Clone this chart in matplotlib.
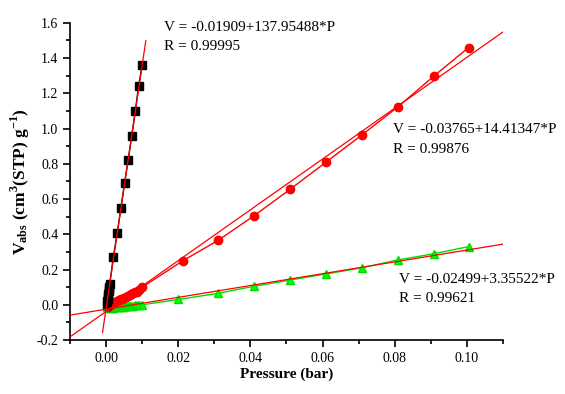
import matplotlib
matplotlib.use("Agg")
import matplotlib.pyplot as plt
import numpy as np
from matplotlib.ticker import MultipleLocator, FormatStrFormatter

plt.rcParams['font.family'] = ['Liberation Serif', 'DejaVu Serif']
plt.rcParams['mathtext.fontset'] = 'custom'
plt.rcParams['mathtext.rm'] = 'Liberation Serif'
plt.rcParams['mathtext.bf'] = 'Liberation Serif:bold'

# Black squares
p_black = [0.0002, 0.0003, 0.0004, 0.0005, 0.0006, 0.0007, 0.0008, 0.0009, 0.0010,
           0.0020, 0.0031, 0.0041, 0.0051, 0.0061, 0.0071, 0.0081, 0.0090, 0.0100]
v_black = [0.00, 0.02, 0.03, 0.05, 0.06, 0.08, 0.09, 0.10, 0.12,
           0.27, 0.41, 0.55, 0.69, 0.82, 0.96, 1.10, 1.24, 1.36]
# Red circles
p_red = [0.0005, 0.0010, 0.0015, 0.0020, 0.0025, 0.0030, 0.0035, 0.0040, 0.0045, 0.0050,
         0.0055, 0.0060, 0.0065, 0.0070, 0.0075, 0.0080, 0.0085, 0.0090, 0.0100,
         0.0213, 0.0310, 0.0410, 0.0510, 0.0610, 0.0710, 0.0810, 0.0910, 0.1005]
v_red = [-0.01, 0.00, 0.005, 0.01, 0.015, 0.02, 0.025, 0.03, 0.035, 0.04,
         0.045, 0.05, 0.055, 0.06, 0.065, 0.07, 0.075, 0.085, 0.10,
         0.25, 0.365, 0.505, 0.655, 0.81, 0.965, 1.125, 1.30, 1.46]
# Green triangles
p_green = [0.0002, 0.0005, 0.0010, 0.0015, 0.0020, 0.0025, 0.0030, 0.0035, 0.0040, 0.0045,
           0.0050, 0.0055, 0.0060, 0.0065, 0.0070, 0.0075, 0.0080, 0.0085, 0.0090, 0.0100,
           0.0200, 0.0310, 0.0410, 0.0510, 0.0610, 0.0710, 0.0810, 0.0910, 0.1005]
v_green = [-0.01, -0.02, -0.02, -0.018, -0.016, -0.015, -0.014, -0.013, -0.012, -0.011,
           -0.010, -0.009, -0.008, -0.007, -0.006, -0.005, -0.004, -0.003, -0.002, 0.00,
           0.03, 0.065, 0.105, 0.14, 0.175, 0.21, 0.255, 0.29, 0.33]

# Linear fits (intercept, slope), drawn ranges and labels
fit_black = (-0.01909, 137.95488)
fit_red = (-0.03765, 14.41347)
fit_green = (-0.02499, 3.35522)
range_black = (-0.001, 0.011)
range_full = (-0.01, 0.11)
eq_black = ['V = -0.01909+137.95488*P', 'R = 0.99995']
eq_red = ['V = -0.03765+14.41347*P', 'R = 0.99876']
eq_green = ['V = -0.02499+3.35522*P', 'R = 0.99621']

fig = plt.figure(figsize=(5.65, 3.94), dpi=100)
ax = fig.add_axes([0.124, 0.137, 0.766, 0.805])

ax.plot(p_green, v_green, color='#00dd00', lw=1, marker='^', ms=6, mec='#00dd00', mfc='#00ff00', zorder=3)
ax.plot(p_red, v_red, color='red', lw=1, marker='o', ms=6, zorder=3)
ax.plot(p_black, v_black, color='black', lw=1, marker='s', ms=5.5, zorder=3)

for (b, m), (x0, x1) in [(fit_black, range_black), (fit_red, range_full), (fit_green, range_full)]:
    xs = np.array([x0, x1])
    ax.plot(xs, b + m * xs, color='red', lw=0.9, zorder=4)

ax.set_xlim(-0.01, 0.11)
ax.set_ylim(-0.2, 1.6)
ax.xaxis.set_major_locator(MultipleLocator(0.02))
ax.xaxis.set_minor_locator(MultipleLocator(0.01))
ax.yaxis.set_major_locator(MultipleLocator(0.2))
ax.yaxis.set_minor_locator(MultipleLocator(0.1))
ax.xaxis.set_major_formatter(FormatStrFormatter('%.2f'))
ax.yaxis.set_major_formatter(FormatStrFormatter('%.1f'))
for s in ['top', 'right']:
    ax.spines[s].set_visible(False)
for s in ['left', 'bottom']:
    ax.spines[s].set_linewidth(1.2)
ax.tick_params(which='major', direction='out', length=5, width=1.2, labelsize=10)
ax.tick_params(which='minor', direction='out', length=3, width=1.2)

ax.set_xlabel('Pressure (bar)', fontsize=11, fontweight='bold', labelpad=2)
ax.set_ylabel(r'$\mathbf{V_{abs}}$ (cm$^{\mathbf{3}}$(STP) g$^{\mathbf{-1}}$)', fontsize=12.5,
              fontweight='bold', labelpad=3)

fs = 11
for lines, x, y1, y2 in [(eq_black, 0.0161, 1.572, 1.464),
                         (eq_red, 0.0795, 0.993, 0.879),
                         (eq_green, 0.0812, 0.142, 0.034)]:
    ax.text(x, y1, lines[0], fontsize=fs, va='center')
    ax.text(x, y2, lines[1], fontsize=fs, va='center')

fig.savefig('out.png', dpi=100)
